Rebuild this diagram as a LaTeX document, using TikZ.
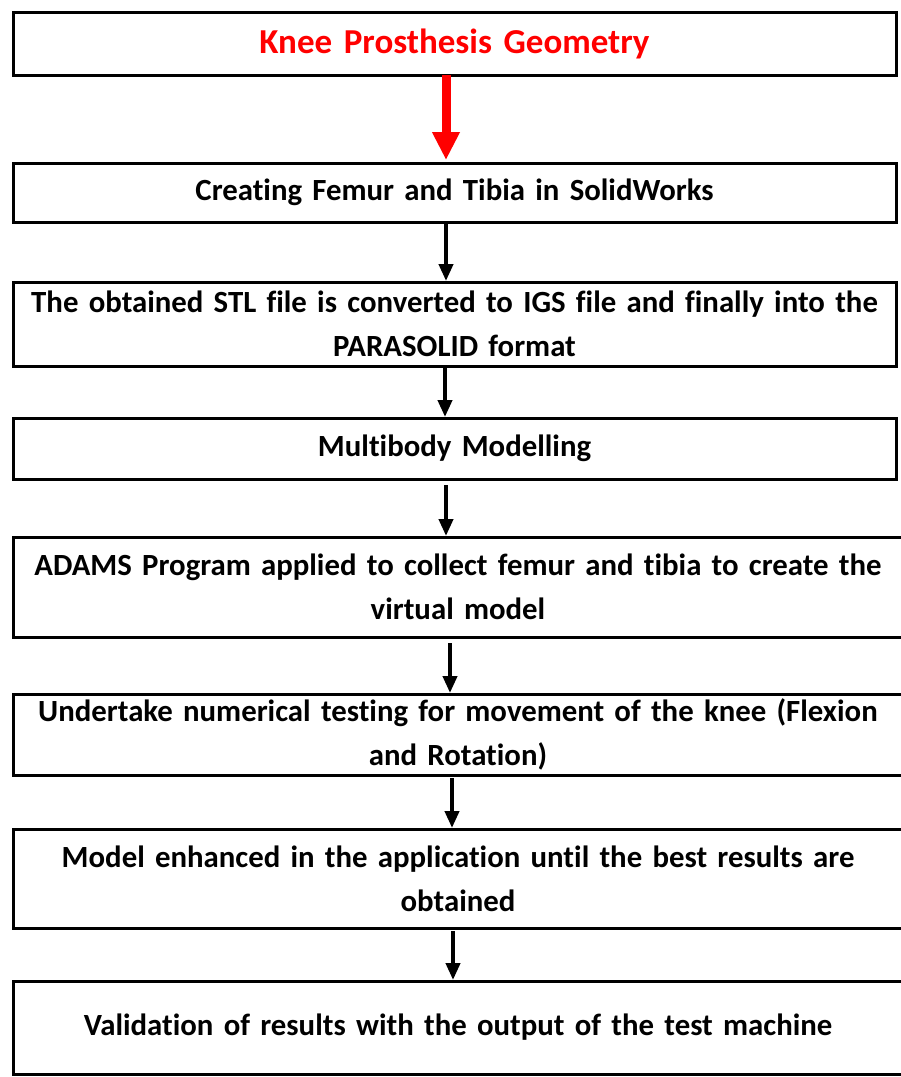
\documentclass[tikz,border=0pt]{standalone}
\usepackage{fontspec}
\setmainfont{Carlito}[Ligatures=NoCommon]
\usepackage{tikz}
\usetikzlibrary{arrows.meta,positioning}
\definecolor{kneered}{HTML}{FF0000}
\tikzset{
  stepbox/.style={draw=black,line width=3pt,inner sep=0pt,outer sep=0pt,
    text width=883pt,align=center,font=\bfseries\fontsize{30.8}{44}\selectfont},
  widebox/.style={stepbox,text width=890pt},
  flow/.style={-{Triangle[length=17pt,width=14pt]},line width=4pt,draw=black},
  redflow/.style={-{Triangle[length=28pt,width=26pt]},line width=9pt,draw=kneered}
}

\begin{document}
\begin{tikzpicture}[x=1pt,y=-1pt]
  \path[clip,use as bounding box] (0,0) rectangle (901,1077);
  \node[stepbox,minimum height=63pt,text=kneered,font=\bfseries\fontsize{35}{44}\selectfont] (geom) at (454.5,43.5) {Knee Prosthesis Geometry};
  \node[stepbox,below=88pt of geom,minimum height=59pt] (create) {Creating Femur and Tibia in SolidWorks};
  \node[stepbox,below=60pt of create,minimum height=84pt] (convert) {The obtained STL file is converted to IGS file and finally into the\\PARASOLID format};
  \node[stepbox,below=52pt of convert,minimum height=61pt] (multibody) {Multibody Modelling};
  \node[widebox,below=58pt of multibody.south west,anchor=north west,minimum height=100pt] (adams) {ADAMS Program applied to collect femur and tibia to create the\\virtual model};
  \node[widebox,below=57pt of adams,minimum height=81pt] (testing) {Undertake numerical testing for movement of the knee (Flexion\\and Rotation)};
  \node[widebox,below=54pt of testing,minimum height=99pt] (enhance) {Model enhanced in the application until the best results are\\obtained};
  \node[widebox,below=53pt of enhance,minimum height=93pt] (validate) {Validation of results with the output of the test machine};
  % arrows
  \draw[redflow,shorten >=3pt] ([xshift=-8.5pt]geom.south) -- ([xshift=-8.5pt]create.north);
  \draw[flow,shorten >=1pt] ([xshift=-8.5pt]create.south) -- ([xshift=-8.5pt]convert.north);
  \draw[flow,shorten >=1pt] ([xshift=-9.5pt]convert.south) -- ([xshift=-9.5pt]multibody.north);
  \draw[flow,shorten <=6pt,shorten >=1pt] ([xshift=-8.5pt]multibody.south) -- ([xshift=-12pt]adams.north);
  \draw[flow,shorten <=6pt,shorten >=1pt] ([xshift=-8pt]adams.south) -- ([xshift=-8pt]testing.north);
  \draw[flow,shorten <=3pt,shorten >=1pt] ([xshift=-6pt]testing.south) -- ([xshift=-6pt]enhance.north);
  \draw[flow,shorten <=3pt,shorten >=1pt] ([xshift=-5pt]enhance.south) -- ([xshift=-5pt]validate.north);
\end{tikzpicture}
\end{document}
